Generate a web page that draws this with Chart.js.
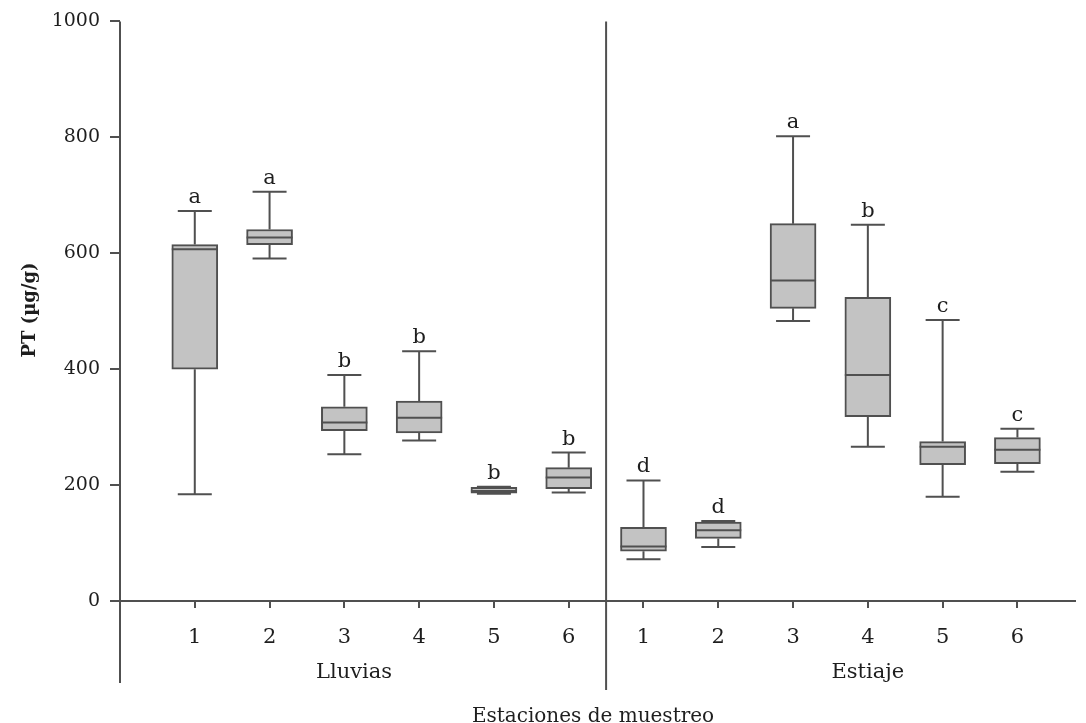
<!DOCTYPE html>
<html>
<head>
<meta charset="utf-8">
<script src="https://cdn.jsdelivr.net/npm/chart.js@4.4.1/dist/chart.umd.min.js"></script>
<style>
    html, body { margin: 0; padding: 0; background: #ffffff; }
    #wrap { width: 1086px; height: 723px; }
</style>
</head>
<body>
<div id="wrap"><canvas id="boxchart" width="1086" height="723"></canvas></div>
<script>
// estaciones: 1-6 lluvias, 1-6 estiaje
const stationLabels = ["1", "2", "3", "4", "5", "6", "1", "2", "3", "4", "5", "6"];
const stationPos = [1, 2, 3, 4, 5, 6, 7, 8, 9, 10, 11, 12];
const whiskerMin = [184, 591, 253, 277, 185, 187, 72, 93, 483, 266, 180, 223];
const boxQ1 = [400, 615, 294, 290, 186, 194, 86, 108, 505, 318, 235, 237];
const boxMedian = [607, 627, 308, 316, 190, 213, 94, 122, 553, 390, 266, 261];
const boxQ3 = [615, 641, 335, 345, 196, 230, 127, 136, 651, 524, 275, 282];
const whiskerMax = [673, 706, 390, 431, 197, 256, 208, 138, 802, 649, 485, 297];
const groupLetters = ["a", "a", "b", "b", "b", "b", "d", "d", "a", "b", "c", "c"];
const yTicks = [0, 200, 400, 600, 800, 1000];
const seasonNames = ["Lluvias", "Estiaje"];
const seasonPos = [3.13, 10];
const seasonSplit = 6.5;

const axisColor = "#505050";
const textColor = "#1e1e1e";
const serif = "'DejaVu Serif', 'Liberation Serif', serif";

var boxData = stationPos.map(function (p, i) {
    return { x: p, y: [boxQ1[i], boxQ3[i]] };
});

// whiskers, medians, letters and the extra axis lines
const boxExtras = {
    id: "boxExtras",
    afterDatasetsDraw: function (chart) {
        const ctx = chart.ctx;
        const xs = chart.scales.x;
        const ys = chart.scales.y;
        const area = chart.chartArea;
        ctx.save();
        ctx.strokeStyle = axisColor;
        ctx.lineWidth = 2;
        for (var i = 0; i < stationPos.length; i++) {
            var cx = xs.getPixelForValue(stationPos[i]);
            var capHalf = 17;
            var boxHalf = 23;
            ctx.beginPath();
            ctx.moveTo(cx, ys.getPixelForValue(boxQ3[i]));
            ctx.lineTo(cx, ys.getPixelForValue(whiskerMax[i]));
            ctx.moveTo(cx, ys.getPixelForValue(boxQ1[i]));
            ctx.lineTo(cx, ys.getPixelForValue(whiskerMin[i]));
            ctx.moveTo(cx - capHalf, ys.getPixelForValue(whiskerMax[i]));
            ctx.lineTo(cx + capHalf, ys.getPixelForValue(whiskerMax[i]));
            ctx.moveTo(cx - capHalf, ys.getPixelForValue(whiskerMin[i]));
            ctx.lineTo(cx + capHalf, ys.getPixelForValue(whiskerMin[i]));
            ctx.moveTo(cx - boxHalf, ys.getPixelForValue(boxMedian[i]));
            ctx.lineTo(cx + boxHalf, ys.getPixelForValue(boxMedian[i]));
            ctx.stroke();

            ctx.fillStyle = textColor;
            ctx.font = "21px " + serif;
            ctx.textAlign = "center";
            ctx.textBaseline = "alphabetic";
            ctx.fillText(groupLetters[i], cx, ys.getPixelForValue(whiskerMax[i]) - 8);
        }

        // y axis runs down past zero, divider between seasons
        ctx.beginPath();
        ctx.moveTo(area.left, area.top);
        ctx.lineTo(area.left, 683);
        var sx = xs.getPixelForValue(seasonSplit);
        ctx.moveTo(sx, area.top);
        ctx.lineTo(sx, 690);
        ctx.stroke();

        ctx.fillStyle = textColor;
        ctx.font = "21px " + serif;
        ctx.textAlign = "center";
        ctx.textBaseline = "alphabetic";
        for (var j = 0; j < seasonNames.length; j++) {
            ctx.fillText(seasonNames[j], xs.getPixelForValue(seasonPos[j]), 678);
        }
        ctx.font = "20px " + serif;
        ctx.fillText("Estaciones de muestreo", 593, 722);

        ctx.translate(30, 310);
        ctx.rotate(-Math.PI / 2);
        ctx.font = "bold 18px " + serif;
        ctx.textBaseline = "middle";
        ctx.fillText("PT (\u00b5g/g)", 0, 0);
        ctx.restore();
    },
};

const config = {
    type: "bar",
    data: {
        datasets: [
            {
                label: "PT",
                data: boxData,
                backgroundColor: "#c3c3c3",
                borderColor: axisColor,
                borderWidth: 2,
                borderSkipped: false,
                barThickness: 46,
            },
        ],
    },
    options: {
        responsive: false,
        animation: false,
        layout: {
            padding: { top: 19, right: 11, bottom: 0, left: 0 },
        },
        plugins: {
            legend: { display: false },
            tooltip: { enabled: false },
        },
        scales: {
            x: {
                type: "linear",
                min: 0,
                max: 12.77,
                offset: false,
                afterFit: function (scale) {
                    scale.height = 122;
                },
                afterBuildTicks: function (scale) {
                    scale.ticks = stationPos.map(function (p) {
                        return { value: p };
                    });
                },
                ticks: {
                    autoSkip: false,
                    maxRotation: 0,
                    padding: 17,
                    color: textColor,
                    font: { family: serif, size: 21 },
                    callback: function (value, index) {
                        return stationLabels[index];
                    },
                },
                grid: {
                    display: true,
                    offset: false,
                    drawOnChartArea: false,
                    drawTicks: true,
                    tickLength: 7,
                    color: axisColor,
                    lineWidth: 2,
                },
                border: { display: true, color: axisColor, width: 2 },
            },
            y: {
                min: 0,
                max: 1000,
                afterFit: function (scale) {
                    scale.width = 120;
                },
                afterBuildTicks: function (scale) {
                    scale.ticks = yTicks.map(function (v) {
                        return { value: v };
                    });
                },
                ticks: {
                    padding: 10,
                    color: textColor,
                    font: { family: serif, size: 19 },
                    callback: function (value) {
                        return String(value);
                    },
                },
                grid: {
                    display: true,
                    drawOnChartArea: false,
                    drawTicks: true,
                    tickLength: 10,
                    color: axisColor,
                    lineWidth: 2,
                },
                border: { display: false },
            },
        },
    },
    plugins: [boxExtras],
};

var boxchart = new Chart(document.getElementById("boxchart"), config);
</script>
</body>
</html>
